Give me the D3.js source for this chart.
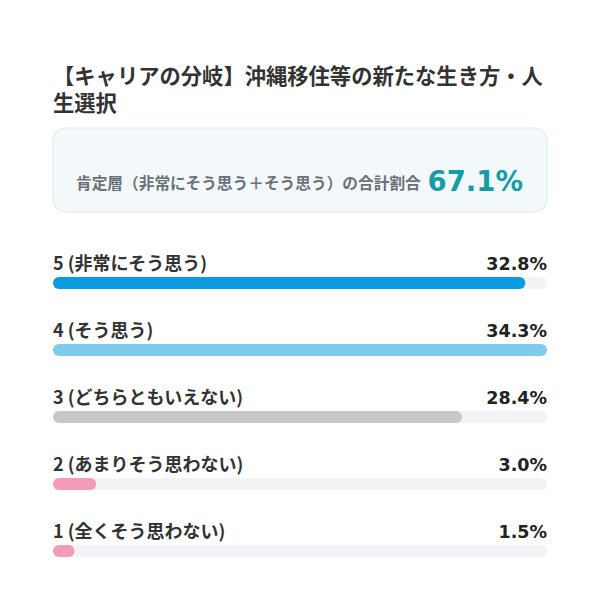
<!DOCTYPE html>
<html><head><meta charset="utf-8">
<script src="https://cdn.jsdelivr.net/npm/d3@7"></script>
<style>
html,body{margin:0;padding:0;background:#fff;}
svg{display:block;font-family:"Noto Sans CJK JP","Noto Sans",sans-serif;}
</style></head>
<body>
<svg id="chart" width="600" height="611"></svg>
<script>
const titleLines = ["【キャリアの分岐】沖縄移住等の新たな生き方・人", "生選択"];
const summaryLabel = "肯定層（非常にそう思う＋そう思う）の合計割合";
const summaryValue = 67.1;
const categories = ["5 (非常にそう思う)", "4 (そう思う)", "3 (どちらともいえない)", "2 (あまりそう思わない)", "1 (全くそう思わない)"];
const values = [32.8, 34.3, 28.4, 3.0, 1.5];
const colors = ["#0a9ae0", "#7ecbed", "#c7c8ca", "#f59bb6", "#f59bb6"];

const svg = d3.select("#chart");
const left = 53, right = 547;

// title
const title = svg.append("text").attr("x", left).attr("y", 84)
  .attr("font-size", 21.3).attr("font-weight", 700).attr("fill", "#333");
title.selectAll("tspan").data(titleLines).join("tspan")
  .attr("x", left).attr("dy", (d, i) => i === 0 ? 0 : 27).text(d => d);

// summary box
svg.append("rect").attr("x", left).attr("y", 128).attr("width", right - left).attr("height", 84)
  .attr("rx", 13).attr("fill", "#f3f9fa").attr("stroke", "#d9edef").attr("stroke-width", 1.2);
svg.append("text").attr("x", 76).attr("y", 189).attr("font-size", 15.7).attr("font-weight", 700)
  .attr("fill", "#6b7079").text(summaryLabel);
svg.append("text").attr("x", 523).attr("y", 191).attr("text-anchor", "end")
  .attr("font-size", 27.5).attr("font-weight", 700).attr("fill", "#159ca5")
  .attr("font-family", "'DejaVu Sans', sans-serif")
  .text(d3.format(".1f")(summaryValue) + "%");

// bars
const x = d3.scaleLinear().domain([0, d3.max(values)]).range([left, right]);
const y = d3.scaleBand().domain(categories).range([250, 585]).paddingInner(0);
const rowH = 12;

const rows = svg.selectAll("g.row").data(categories).join("g").attr("class", "row")
  .attr("transform", d => `translate(0,${y(d)})`);

rows.append("text").attr("x", left).attr("y", 20).attr("font-size", 18).attr("font-weight", 700)
  .attr("fill", "#333").text(d => d);
rows.append("text").attr("x", right).attr("y", 20).attr("text-anchor", "end")
  .attr("font-size", 17.5).attr("font-weight", 700).attr("fill", "#222")
  .attr("font-family", "'DejaVu Sans', sans-serif")
  .text((d, i) => d3.format(".1f")(values[i]) + "%");
rows.append("rect").attr("x", left).attr("y", 27).attr("height", rowH)
  .attr("width", x(d3.max(values)) - left).attr("rx", rowH / 2).attr("fill", "#f1f3f6");
rows.append("rect").attr("x", left).attr("y", 27).attr("height", rowH)
  .attr("width", (d, i) => x(values[i]) - left).attr("rx", rowH / 2).attr("fill", (d, i) => colors[i]);
</script>
</body></html>
